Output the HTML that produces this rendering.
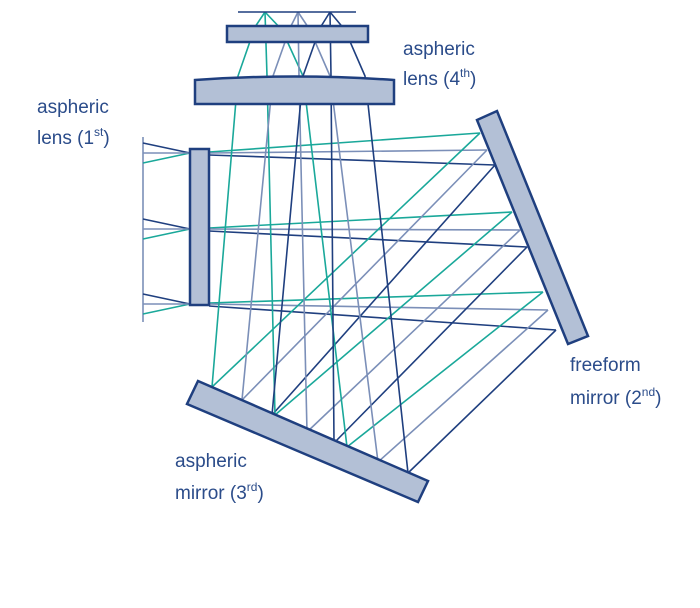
<!DOCTYPE html>
<html><head><style>
html,body{margin:0;padding:0;background:#fff;}
svg{display:block;}
text{font-family:"Liberation Sans",sans-serif;font-size:19px;fill:#2b4c8a;}
</style></head><body>
<svg width="700" height="608" viewBox="0 0 700 608" xmlns="http://www.w3.org/2000/svg">
<g fill="none" stroke-width="1.6">
<!-- object plane -->
<line x1="143" y1="137" x2="143" y2="322" stroke="#7b8fb8"/>
<!-- object to lens 1 -->
<g stroke="#1f3f7f"><line x1="143" y1="143" x2="190" y2="153"/><line x1="143" y1="219" x2="190" y2="229"/><line x1="143" y1="294" x2="190" y2="304"/></g>
<g stroke="#1aa89a"><line x1="143" y1="163" x2="190" y2="153"/><line x1="143" y1="239" x2="190" y2="229"/><line x1="143" y1="314" x2="190" y2="304"/></g>
<g stroke="#7b8fb8"><line x1="143" y1="153" x2="190" y2="153"/><line x1="143" y1="229" x2="190" y2="229"/><line x1="143" y1="304" x2="190" y2="304"/></g>
<!-- lens1 to mirror2 -->
<g stroke="#1aa89a"><line x1="209" y1="152" x2="480" y2="133"/><line x1="209" y1="228" x2="512" y2="212"/><line x1="209" y1="303" x2="543" y2="292"/></g>
<g stroke="#7b8fb8"><line x1="209" y1="153" x2="487" y2="150"/><line x1="209" y1="229" x2="520" y2="230"/><line x1="209" y1="304" x2="548" y2="310"/></g>
<g stroke="#1f3f7f"><line x1="209" y1="155" x2="495" y2="165"/><line x1="209" y1="231" x2="527" y2="247"/><line x1="209" y1="306" x2="556" y2="330"/></g>
<!-- mirror2 to mirror3 -->
<g stroke="#1aa89a"><line x1="480" y1="133" x2="212" y2="387"/><line x1="512" y1="212" x2="275" y2="415"/><line x1="543" y1="292" x2="347" y2="447"/></g>
<g stroke="#7b8fb8"><line x1="487" y1="150" x2="242" y2="400"/><line x1="520" y1="230" x2="307" y2="432"/><line x1="548" y1="310" x2="378" y2="462"/></g>
<g stroke="#1f3f7f"><line x1="495" y1="165" x2="272" y2="415"/><line x1="527" y1="247" x2="334" y2="443"/><line x1="556" y1="330" x2="408" y2="473"/></g>
<!-- mirror3 to image -->
<g stroke="#1aa89a"><polyline points="212,387 238,76 255,27 265,12"/><polyline points="275,415 267,76 265,12"/><polyline points="347,447 303,76 282,30 265,12"/></g>
<g stroke="#7b8fb8"><polyline points="242,400 273,76 290,28 298,12"/><polyline points="307,432 299,76 298,12"/><polyline points="378,462 330,76 310,30 298,12"/></g>
<g stroke="#1f3f7f"><polyline points="272,415 303,76 320,28 330,12"/><polyline points="334,443 331,76 330,12"/><polyline points="408,473 365,76 345,30 330,12"/></g>
<line x1="238" y1="12" x2="356" y2="12" stroke="#1f3f7f"/>
</g>
<g fill="#b3c0d6" stroke="#1f3f7f" stroke-width="2.5">
<rect x="190" y="149" width="19" height="156"/>
<rect x="227" y="26" width="141" height="16"/>
<path d="M195,80 Q295,73 394,80 L394,104 L195,104 Z"/>
<polygon points="477,120 497,111 588,336 568,344"/>
<polygon points="198,381 428,481 418,502 187,404"/>
</g>
<text x="37" y="113">aspheric</text>
<text x="37" y="144">lens (1<tspan font-size="12" dy="-8">st</tspan><tspan dy="8">)</tspan></text>
<text x="403" y="55">aspheric</text>
<text x="403" y="85">lens (4<tspan font-size="12" dy="-8">th</tspan><tspan dy="8">)</tspan></text>
<text x="570" y="371">freeform</text>
<text x="570" y="404">mirror (2<tspan font-size="12" dy="-8">nd</tspan><tspan dy="8">)</tspan></text>
<text x="175" y="467">aspheric</text>
<text x="175" y="499">mirror (3<tspan font-size="12" dy="-8">rd</tspan><tspan dy="8">)</tspan></text>
</svg>
</body></html>
